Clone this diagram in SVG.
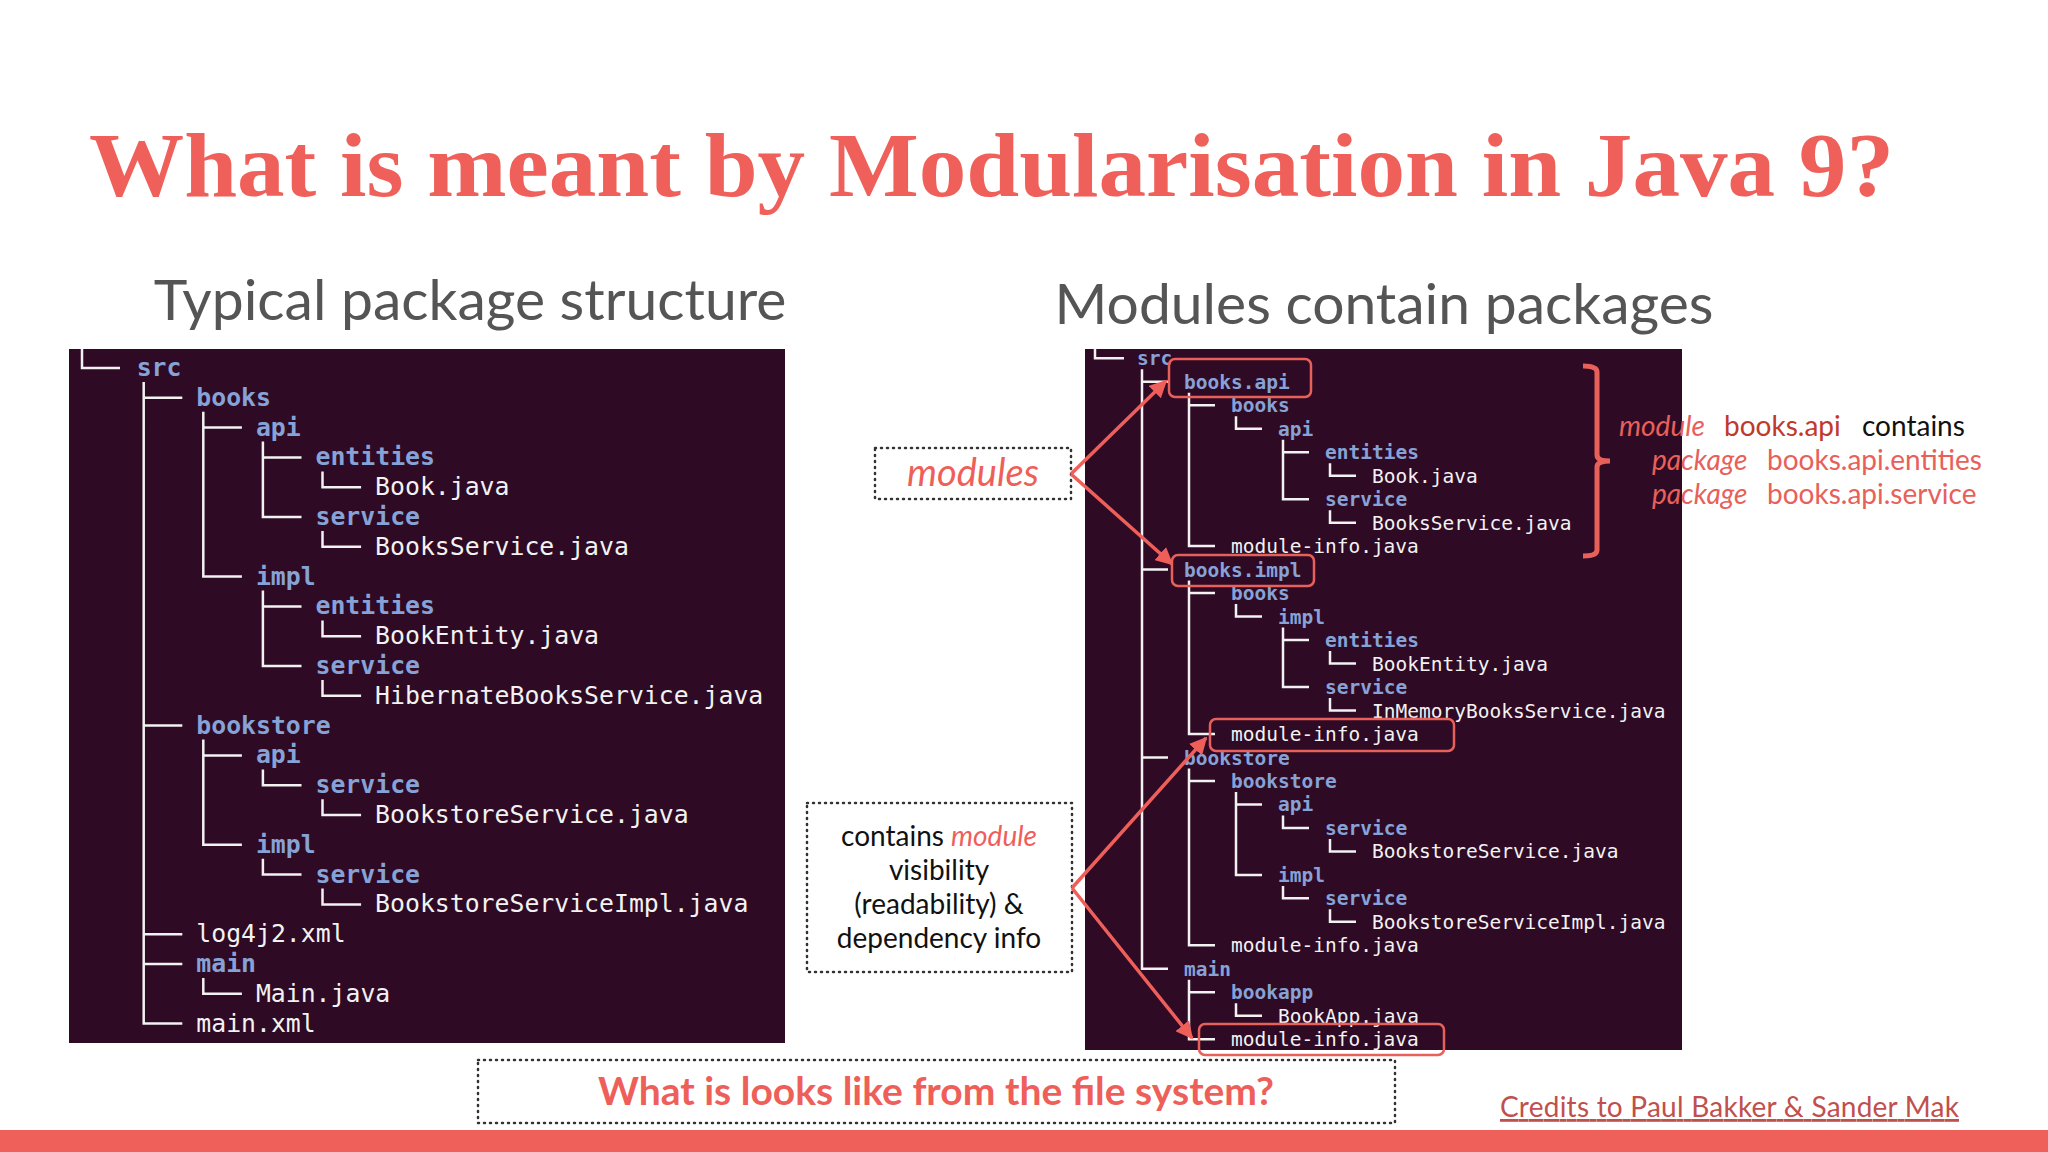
<svg xmlns="http://www.w3.org/2000/svg" width="2048" height="1152" viewBox="0 0 2048 1152">
<style>
.panel{fill:#2e0a24}
.ln{fill:none;stroke:#f2f2f2;stroke-width:2.5}
.lt{font-family:"DejaVu Sans Mono",monospace;font-size:24.8px}
.rt{font-family:"DejaVu Sans Mono",monospace;font-size:19.5px}
.d{fill:#86a2d6;font-weight:bold}
.f{fill:#f2f2f2}
.hl{fill:none;stroke:#e8605a;stroke-width:2.5}
.dot{fill:none;stroke:#333;stroke-width:2.5;stroke-dasharray:1 5;stroke-linecap:round}
.arr{fill:none;stroke:#ef5f5a;stroke-width:3.5}
.sans{font-family:Lato,"Open Sans",sans-serif}
</style>
<defs>
<marker id="ah" viewBox="0 0 10 10" refX="9" refY="5" markerWidth="5" markerHeight="5" orient="auto" markerUnits="strokeWidth"><path d="M0,0 L10,5 L0,10 z" fill="#ef5f5a"/></marker>
</defs>
<rect width="2048" height="1152" fill="#fff"/>
<text id="title" x="89" y="196" font-family="Liberation Serif,serif" font-weight="bold" font-size="92" fill="#f0605a" textLength="1805" lengthAdjust="spacingAndGlyphs">What is meant by Modularisation in Java 9?</text>
<text x="470" y="320" text-anchor="middle" class="sans" font-size="57" fill="#555">Typical package structure</text>
<text x="1384" y="324" text-anchor="middle" class="sans" font-size="57" fill="#555">Modules contain packages</text>

<g id="left-tree">
<rect class="panel" x="69" y="349" width="716" height="694"/>
<path class="ln" d="M82 349 V368 H120 M143.7 382 V397.8 H182.3 M203.3 411.8 V427.6 H241.9 M262.9 441.6 V457.4 H301.5 M322.5 471.4 V487.2 H361.1 M262.9 441.6 V517 H301.5 M322.5 531 V546.8 H361.1 M203.3 411.8 V576.6 H241.9 M262.9 590.6 V606.4 H301.5 M322.5 620.4 V636.2 H361.1 M262.9 590.6 V666 H301.5 M322.5 680 V695.8 H361.1 M143.7 382 V725.6 H182.3 M203.3 739.6 V755.4 H241.9 M262.9 769.4 V785.2 H301.5 M322.5 799.2 V815 H361.1 M203.3 739.6 V844.8 H241.9 M262.9 858.8 V874.6 H301.5 M322.5 888.6 V904.4 H361.1 M143.7 382 V934.2 H182.3 M143.7 382 V964 H182.3 M203.3 978 V993.8 H241.9 M143.7 382 V1023.6 H182.3"/>
<g class="lt">
<text class="d" x="136.7" y="376">src</text>
<text class="d" x="196.3" y="406">books</text>
<text class="d" x="255.9" y="436">api</text>
<text class="d" x="315.5" y="465">entities</text>
<text class="f" x="375.1" y="495">Book.java</text>
<text class="d" x="315.5" y="525">service</text>
<text class="f" x="375.1" y="555">BooksService.java</text>
<text class="d" x="255.9" y="585">impl</text>
<text class="d" x="315.5" y="614">entities</text>
<text class="f" x="375.1" y="644">BookEntity.java</text>
<text class="d" x="315.5" y="674">service</text>
<text class="f" x="375.1" y="704">HibernateBooksService.java</text>
<text class="d" x="196.3" y="734">bookstore</text>
<text class="d" x="255.9" y="763">api</text>
<text class="d" x="315.5" y="793">service</text>
<text class="f" x="375.1" y="823">BookstoreService.java</text>
<text class="d" x="255.9" y="853">impl</text>
<text class="d" x="315.5" y="883">service</text>
<text class="f" x="375.1" y="912">BookstoreServiceImpl.java</text>
<text class="f" x="196.3" y="942">log4j2.xml</text>
<text class="d" x="196.3" y="972">main</text>
<text class="f" x="255.9" y="1002">Main.java</text>
<text class="f" x="196.3" y="1032">main.xml</text>
</g>
</g>

<g id="right-tree">
<rect class="panel" x="1085" y="349" width="597" height="701"/>
<path class="ln" stroke-width="2" d="M1095 349 V358.3 H1124 M1142 369.3 V381.8 H1168 M1189 392.8 V405.3 H1215 M1236 416.3 V428.7 H1262 M1283 439.7 V452.2 H1309 M1330 463.2 V475.7 H1356 M1283 439.7 V499.2 H1309 M1330 510.2 V522.7 H1356 M1189 392.8 V546.1 H1215 M1142 369.3 V569.6 H1168 M1189 580.6 V593.1 H1215 M1236 604.1 V616.6 H1262 M1283 627.6 V640.1 H1309 M1330 651.1 V663.5 H1356 M1283 627.6 V687 H1309 M1330 698 V710.5 H1356 M1189 580.6 V734 H1215 M1142 369.3 V757.5 H1168 M1189 768.5 V780.9 H1215 M1236 791.9 V804.4 H1262 M1283 815.4 V827.9 H1309 M1330 838.9 V851.4 H1356 M1236 791.9 V874.9 H1262 M1283 885.9 V898.3 H1309 M1330 909.3 V921.8 H1356 M1189 768.5 V945.3 H1215 M1142 369.3 V968.8 H1168 M1189 979.8 V992.3 H1215 M1236 1003.3 V1015.7 H1262 M1189 979.8 V1039.2 H1215"/>
<g class="rt">
<text class="d" x="1137" y="365">src</text>
<text class="d" x="1184" y="389">books.api</text>
<text class="d" x="1231" y="412">books</text>
<text class="d" x="1278" y="436">api</text>
<text class="d" x="1325" y="459">entities</text>
<text class="f" x="1372" y="483">Book.java</text>
<text class="d" x="1325" y="506">service</text>
<text class="f" x="1372" y="530">BooksService.java</text>
<text class="f" x="1231" y="553">module-info.java</text>
<text class="d" x="1184" y="577">books.impl</text>
<text class="d" x="1231" y="600">books</text>
<text class="d" x="1278" y="624">impl</text>
<text class="d" x="1325" y="647">entities</text>
<text class="f" x="1372" y="671">BookEntity.java</text>
<text class="d" x="1325" y="694">service</text>
<text class="f" x="1372" y="718">InMemoryBooksService.java</text>
<text class="f" x="1231" y="741">module-info.java</text>
<text class="d" x="1184" y="765">bookstore</text>
<text class="d" x="1231" y="788">bookstore</text>
<text class="d" x="1278" y="811">api</text>
<text class="d" x="1325" y="835">service</text>
<text class="f" x="1372" y="858">BookstoreService.java</text>
<text class="d" x="1278" y="882">impl</text>
<text class="d" x="1325" y="905">service</text>
<text class="f" x="1372" y="929">BookstoreServiceImpl.java</text>
<text class="f" x="1231" y="952">module-info.java</text>
<text class="d" x="1184" y="976">main</text>
<text class="d" x="1231" y="999">bookapp</text>
<text class="f" x="1278" y="1023">BookApp.java</text>
<text class="f" x="1231" y="1046">module-info.java</text>
</g>
<rect class="hl" x="1169" y="359" width="142" height="38" rx="6"/>
<rect class="hl" x="1172" y="555" width="142" height="31" rx="6"/>
<rect class="hl" x="1210" y="719" width="244" height="32" rx="6"/>
<rect class="hl" x="1199" y="1024" width="245" height="31" rx="6"/>
</g>

<g id="annotation">
<path d="M1583 366 Q1597 366 1597 372 V455 Q1597 461 1610 461 Q1597 461 1597 467 V550 Q1597 556 1583 556" fill="none" stroke="#e8605a" stroke-width="5"/>
<text y="436" class="sans" font-size="28"><tspan x="1619" fill="#e8605a" font-style="italic">module</tspan><tspan x="1724" fill="#c0392b">books.api</tspan><tspan x="1862" fill="#111">contains</tspan></text>
<text y="470" class="sans" font-size="28"><tspan x="1652" fill="#e8605a" font-style="italic">package</tspan><tspan x="1767" fill="#e8605a">books.api.entities</tspan></text>
<text y="504" class="sans" font-size="28"><tspan x="1652" fill="#e8605a" font-style="italic">package</tspan><tspan x="1767" fill="#e8605a">books.api.service</tspan></text>
</g>

<g id="modules-label">
<rect class="dot" x="875" y="448" width="196" height="51"/>
<text x="973" y="486" text-anchor="middle" class="sans" font-size="38" font-style="italic" fill="#ef5f5a">modules</text>
</g>
<g id="info-label">
<rect class="dot" x="807" y="803" width="265" height="169"/>
<g class="sans" font-size="28" fill="#111" text-anchor="middle">
<text x="939" y="846">contains <tspan fill="#ef5f5a" font-style="italic">module</tspan></text>
<text x="939" y="880">visibility</text>
<text x="939" y="914">(readability) &amp;</text>
<text x="939" y="948">dependency info</text>
</g>
</g>

<g id="connectors">
<path class="arr" marker-end="url(#ah)" d="M1071 474 L1166 381"/>
<path class="arr" marker-end="url(#ah)" d="M1071 474 L1172 564"/>
<path class="arr" marker-end="url(#ah)" d="M1072 888 L1206 738"/>
<path class="arr" marker-end="url(#ah)" d="M1072 888 L1192 1038"/>
</g>

<g id="footer">
<rect class="dot" x="478" y="1060" width="917" height="63"/>
<text x="936" y="1105" text-anchor="middle" class="sans" font-size="39" font-weight="bold" fill="#ef5f5a">What is looks like from the file system?</text>
<text x="1500" y="1117" class="sans" font-size="28" fill="#c0504d" text-decoration="underline" textLength="459">Credits to Paul Bakker &amp; Sander Mak</text>
<rect x="0" y="1130" width="2048" height="22" fill="#f0605a"/>
</g>
</svg>
